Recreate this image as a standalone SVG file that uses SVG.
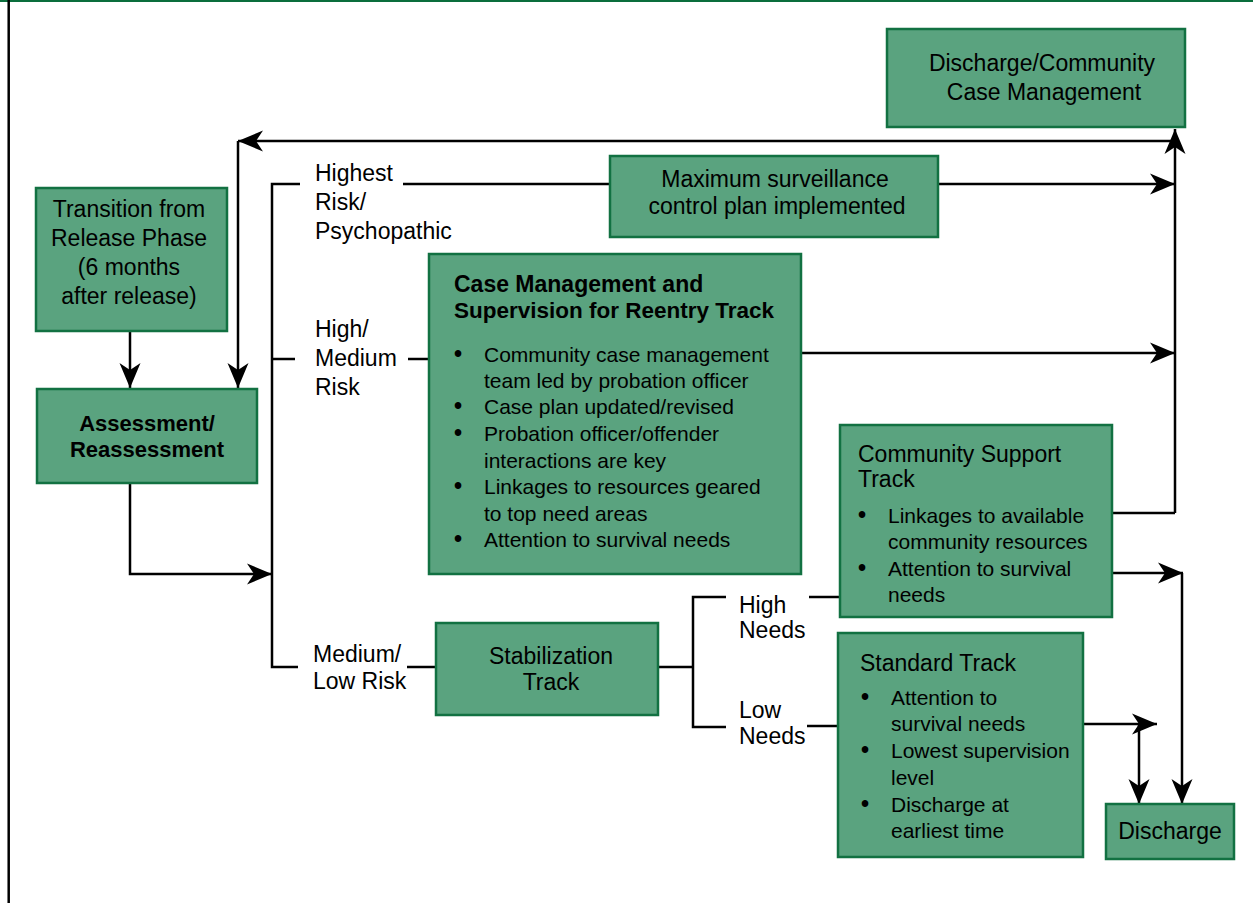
<svg xmlns="http://www.w3.org/2000/svg" width="1253" height="903" viewBox="0 0 1253 903">
<style>
.box{fill:#5aa37f;stroke:#127142;stroke-width:2.5}
.t{font-family:"Liberation Sans",Arial,sans-serif;font-size:23px;fill:#000}
.b{font-family:"Liberation Sans",Arial,sans-serif;font-size:21px;fill:#000}
.d{font-family:"Liberation Sans",Arial,sans-serif;font-size:23px;font-weight:bold;fill:#000}
.bold{font-weight:bold}
.c{text-anchor:middle}
.ln{fill:none;stroke:#000;stroke-width:2.5}
.ar{marker-end:url(#ah)}
</style>
<defs>
<marker id="ah" markerUnits="userSpaceOnUse" viewBox="-26 -12 28 24" refX="0" refY="0" markerWidth="28" markerHeight="24" orient="auto" overflow="visible">
<path d="M0,0 L-25,-10.5 L-18,0 L-25,10.5 Z" fill="#000"/>
</marker>
</defs>
<rect width="1253" height="903" fill="#fff"/>
<g id="frame">
<line x1="0" y1="1" x2="1253" y2="1" stroke="#0a6e3c" stroke-width="2"/>
<line x1="8.7" y1="0" x2="8.7" y2="903" stroke="#000" stroke-width="2.5"/>
</g>
<g id="connectors">
<path class="ln ar" d="M130,331 V388"/>
<path class="ln ar" d="M1175,141 H238"/>
<path class="ln ar" d="M238,141 V388"/>
<path class="ln ar" d="M130,483 V574 H272"/>
<path class="ln" d="M300,184 H272 V667 H298"/>
<path class="ln" d="M403,184 H610"/>
<path class="ln ar" d="M938,184 H1175"/>
<path class="ln" d="M272,359 H295"/>
<path class="ln" d="M408,359 H429"/>
<path class="ln ar" d="M801,353 H1175"/>
<path class="ln" d="M407,667 H436"/>
<path class="ln" d="M658,667 H693"/>
<path class="ln" d="M726,597 H693 V727 H726"/>
<path class="ln" d="M809,597 H839"/>
<path class="ln" d="M807,726 H838"/>
<path class="ln" d="M1112,513 H1175"/>
<path class="ln ar" d="M1175,513 V129"/>
<path class="ln ar" d="M1112,573 H1183"/>
<path class="ln ar" d="M1182,573 V804"/>
<path class="ln ar" d="M1083,724 H1157"/>
<path class="ln ar" d="M1139,724 V804"/>
</g>
<g id="labels">
<text class="t" x="315" y="181">Highest</text>
<text class="t" x="315" y="210">Risk/</text>
<text class="t" x="315" y="239">Psychopathic</text>
<text class="t" x="315" y="337">High/</text>
<text class="t" x="315" y="366">Medium</text>
<text class="t" x="315" y="395">Risk</text>
<text class="t" x="313" y="662">Medium/</text>
<text class="t" x="313" y="689">Low Risk</text>
<text class="t" x="739" y="613">High</text>
<text class="t" x="739" y="638">Needs</text>
<text class="t" x="739" y="718">Low</text>
<text class="t" x="739" y="744">Needs</text>
</g>
<g id="transition">
<rect class="box" x="36" y="188" width="191" height="143"/>
<text class="t c" x="129" y="217">Transition from</text>
<text class="t c" x="129" y="246">Release Phase</text>
<text class="t c" x="129" y="275">(6 months</text>
<text class="t c" x="129" y="304">after release)</text>
</g>
<g id="assessment">
<rect class="box" x="37" y="389" width="220" height="94"/>
<text class="t c bold" x="147" y="431" style="font-size:22px">Assessment/</text>
<text class="t c bold" x="147" y="457" style="font-size:22px">Reassessment</text>
</g>
<g id="discharge-community">
<rect class="box" x="887" y="29" width="298" height="98"/>
<text class="t c" x="1042" y="71">Discharge/Community</text>
<text class="t c" x="1044" y="100">Case Management</text>
</g>
<g id="max-surveillance">
<rect class="box" x="610" y="156" width="328" height="81"/>
<text class="t c" x="775" y="187">Maximum surveillance</text>
<text class="t c" x="777" y="214">control plan implemented</text>
</g>
<g id="case-management">
<rect class="box" x="429" y="254" width="372" height="320"/>
<text class="t bold" x="454" y="292" style="font-size:23px">Case Management and</text>
<text class="t bold" x="454" y="318" style="font-size:22.5px">Supervision for Reentry Track</text>
<text class="d" x="454" y="362">•</text><text class="b" x="484" y="362">Community case management</text>
<text class="b" x="484" y="388">team led by probation officer</text>
<text class="d" x="454" y="414">•</text><text class="b" x="484" y="414">Case plan updated/revised</text>
<text class="d" x="454" y="441">•</text><text class="b" x="484" y="441">Probation officer/offender</text>
<text class="b" x="484" y="468">interactions are key</text>
<text class="d" x="454" y="494">•</text><text class="b" x="484" y="494">Linkages to resources geared</text>
<text class="b" x="484" y="521">to top need areas</text>
<text class="d" x="454" y="547">•</text><text class="b" x="484" y="547">Attention to survival needs</text>
</g>
<g id="community-support">
<rect class="box" x="840" y="425" width="272" height="192"/>
<text class="t" x="858" y="462">Community Support</text>
<text class="t" x="858" y="487">Track</text>
<text class="d" x="858" y="523">•</text><text class="b" x="888" y="523">Linkages to available</text>
<text class="b" x="888" y="549">community resources</text>
<text class="d" x="858" y="576">•</text><text class="b" x="888" y="576">Attention to survival</text>
<text class="b" x="888" y="602">needs</text>
</g>
<g id="stabilization">
<rect class="box" x="436" y="623" width="222" height="92"/>
<text class="t c" x="551" y="664">Stabilization</text>
<text class="t c" x="551" y="690">Track</text>
</g>
<g id="standard">
<rect class="box" x="838" y="633" width="245" height="224"/>
<text class="t" x="860" y="671">Standard Track</text>
<text class="d" x="861" y="705">•</text><text class="b" x="891" y="705">Attention to</text>
<text class="b" x="891" y="731">survival needs</text>
<text class="d" x="861" y="758">•</text><text class="b" x="891" y="758">Lowest supervision</text>
<text class="b" x="891" y="785">level</text>
<text class="d" x="861" y="812">•</text><text class="b" x="891" y="812">Discharge at</text>
<text class="b" x="891" y="838">earliest time</text>
</g>
<g id="discharge">
<rect class="box" x="1106" y="804" width="128" height="55"/>
<text class="t c" x="1170" y="839">Discharge</text>
</g>
</svg>
